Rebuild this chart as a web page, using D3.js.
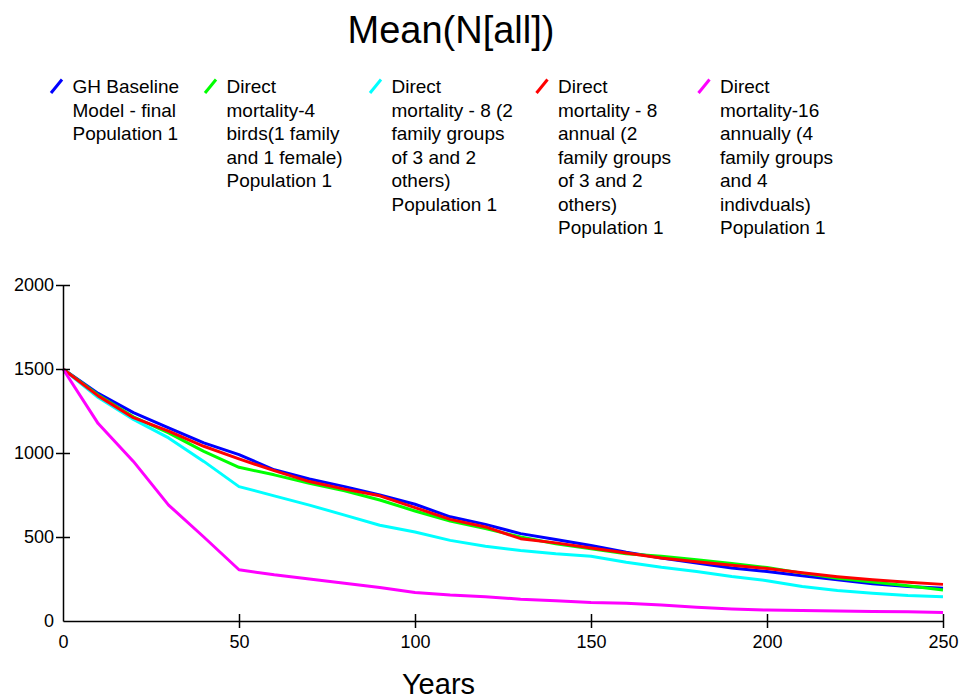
<!DOCTYPE html>
<html>
<head>
<meta charset="utf-8">
<script src="https://cdn.jsdelivr.net/npm/d3@7/dist/d3.min.js"></script>
<style>
  html, body { margin: 0; padding: 0; background: #fff; }
  svg { display: block; }
  text { font-family: "Liberation Sans", Arial, sans-serif; fill: #000; }
</style>
</head>
<body>
<svg id="chart" width="960" height="700"></svg>
<script>
// ---- data ----
const years = [0,10,20,30,40,50,60,70,80,90,100,110,120,130,140,150,160,170,180,190,200,210,220,230,240,250];
const baseline = [1500,1355,1240,1150,1060,990,900,845,800,750,695,620,575,520,485,450,410,375,345,315,295,270,245,222,205,195];
const mort4 = [1500,1345,1215,1120,1010,915,870,820,775,720,655,595,550,500,460,430,400,385,365,342,318,285,255,232,210,185];
const mort8 = [1500,1330,1200,1090,950,800,745,690,630,570,530,480,445,420,400,385,350,320,295,265,240,205,182,165,152,145];
const mort8annual = [1500,1340,1210,1130,1040,965,895,830,785,745,675,605,560,490,465,435,405,375,352,332,312,287,264,245,230,218];
const mort16 = [1500,1175,950,690,500,305,275,250,225,200,170,155,145,130,120,110,105,95,82,72,65,62,60,57,55,50];
const seriesNames = [
  ["GH Baseline","Model - final","Population 1"],
  ["Direct","mortality-4","birds(1 family","and 1 female)","Population 1"],
  ["Direct","mortality - 8 (2","family groups","of 3 and 2","others)","Population 1"],
  ["Direct","mortality - 8","annual (2","family groups","of 3 and 2","others)","Population 1"],
  ["Direct","mortality-16","annually (4","family groups","and 4","indivduals)","Population 1"]
];
const seriesValues = [baseline, mort4, mort8, mort8annual, mort16];
const xTicks = [0,50,100,150,200,250];
const yTicks = [0,500,1000,1500,2000];
const titleText = "Mean(N[all])";
const xLabel = "Years";

// ---- styles / layout ----
const colors = ["#0000ff","#00ff00","#00ffff","#ff0000","#ff00ff"];
const legendX = [72.5, 226.5, 391.5, 558, 720];

const svg = d3.select("#chart");
const x = d3.scaleLinear().domain([0,250]).range([63,943]);
const y = d3.scaleLinear().domain([0,2000]).range([621,285]);

// title
svg.append("text").attr("x",451).attr("y",43).attr("text-anchor","middle")
  .style("font-size","38px").text(titleText);

// legend
seriesNames.forEach((lines,i)=>{
  const g = svg.append("g");
  const lx = legendX[i];
  g.append("line").attr("x1",lx-21.5).attr("y1",93).attr("x2",lx-10.5).attr("y2",79.5)
    .attr("stroke",colors[i]).attr("stroke-width",3);
  lines.forEach((t,j)=>{
    g.append("text").attr("x",lx).attr("y",93 + j*23.5).style("font-size","19px").text(t);
  });
});

// lines
const line = d3.line().x((d,i)=>x(years[i])).y(d=>y(d));
seriesValues.forEach((vals,i)=>{
  svg.append("path").datum(vals).attr("d",line).attr("fill","none")
    .attr("stroke",colors[i]).attr("stroke-width",3).attr("stroke-linejoin","round");
});

// axes
const xAxis = d3.axisBottom(x).tickValues(xTicks).tickSizeInner(7).tickSizeOuter(0).tickPadding(10).tickFormat(d3.format("d"));
const gx = svg.append("g").attr("transform","translate(0,621)").call(xAxis);
gx.select(".domain").attr("stroke","#000").attr("stroke-width",1.5);
gx.selectAll(".tick line").attr("y1",-7).attr("y2",7).attr("stroke","#000").attr("stroke-width",1.5);
gx.selectAll(".tick text").style("font-size","18px").style("font-family","'Liberation Sans', Arial, sans-serif").attr("fill","#000").attr("y",14);
gx.selectAll(".tick").filter(d=>d===0).select("line").remove();

const yAxis = d3.axisLeft(y).tickValues(yTicks).tickSizeInner(7).tickSizeOuter(0).tickPadding(9).tickFormat(d3.format("d"));
const gy = svg.append("g").attr("transform","translate(63,0)").call(yAxis);
gy.select(".domain").attr("stroke","#000").attr("stroke-width",1.5);
gy.selectAll(".tick line").attr("x1",-7).attr("x2",7).attr("stroke","#000").attr("stroke-width",1.5);
gy.selectAll(".tick text").style("font-size","18px").style("font-family","'Liberation Sans', Arial, sans-serif").attr("fill","#000").attr("x",-9);
gy.selectAll(".tick").filter(d=>d===0).select("line").remove();

// x label
svg.append("text").attr("x",438.5).attr("y",694).attr("text-anchor","middle")
  .style("font-size","29px").text(xLabel);
</script>
</body>
</html>
